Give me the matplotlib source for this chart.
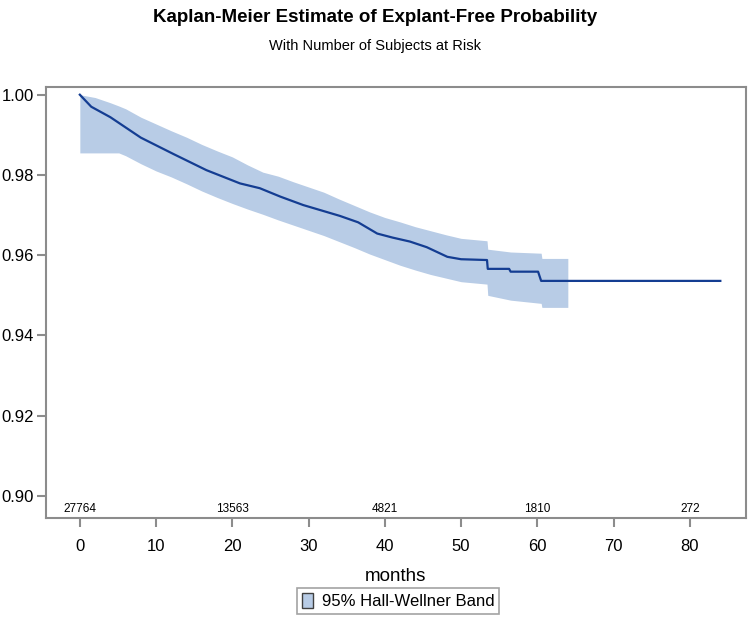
import matplotlib
matplotlib.use("Agg")
import matplotlib.pyplot as plt
from matplotlib.patches import Patch

plt.rcParams['font.family'] = ['Liberation Sans', 'DejaVu Sans']

# Kaplan-Meier curve (months, explant-free probability)
km_months = [0, 1.5, 4.0, 8, 12.3, 16.6, 21, 23.6, 26.3, 29.3, 34.1, 36.5, 39, 41, 43.3,
             45.5, 48.2, 50, 53.4, 53.5, 56.3, 56.5, 60.1, 60.5, 84]
km_surv = [1.000, 0.997, 0.9944, 0.9893, 0.9852, 0.9812, 0.9779, 0.9767, 0.9746, 0.9725,
           0.9698, 0.9682, 0.9654, 0.9644, 0.9634, 0.962, 0.9596, 0.9590, 0.9588, 0.9566,
           0.9566, 0.9559, 0.9559, 0.9536, 0.9536]

# 95% Hall-Wellner band
band_months = [0, 2, 4, 5.1, 6, 8, 10, 12, 14, 16, 18, 20, 22, 24, 26, 28, 30, 32, 34, 36,
               38, 40, 42, 44, 46, 48, 50, 53.4, 53.5, 56.5, 60.5, 60.6, 64]
band_upper = [1.000, 0.9993, 0.9980, 0.9972, 0.9965, 0.9944, 0.9927, 0.9910, 0.9894, 0.9876,
              0.9860, 0.9845, 0.9825, 0.9807, 0.9797, 0.9783, 0.9770, 0.9757, 0.9740, 0.9724,
              0.9708, 0.9694, 0.9683, 0.9671, 0.9661, 0.9651, 0.9642, 0.9636, 0.9615, 0.9608,
              0.9605, 0.9592, 0.9592]
band_lower = [0.9855, 0.9855, 0.9855, 0.9855, 0.9848, 0.9828, 0.9810, 0.9795, 0.9778, 0.9760,
              0.9744, 0.9729, 0.9715, 0.9702, 0.9688, 0.9675, 0.9662, 0.9649, 0.9634, 0.9619,
              0.9603, 0.9589, 0.9575, 0.9563, 0.9552, 0.9543, 0.9534, 0.9528, 0.9500, 0.9488,
              0.9480, 0.9470, 0.9470]

# subjects at risk
risk_months = [0, 20, 40, 60, 80]
risk_counts = [27764, 13563, 4821, 1810, 272]

band_color = '#b8cce6'
line_color = '#143d92'
frame_color = '#8c8c8c'

fig = plt.figure(figsize=(7.5, 6.22), dpi=100)
ax = fig.add_axes([0.0607, 0.1677, 0.9343, 0.6919])

ax.fill_between(band_months, band_lower, band_upper, color=band_color, linewidth=0)
ax.plot(km_months, km_surv, color=line_color, linewidth=1.6)

ax.set_xlim(-4.5, 87.4)
ax.set_ylim(0.89459, 1.00184)
ax.set_xticks(range(0, 81, 10))
ax.set_yticks([0.90, 0.92, 0.94, 0.96, 0.98, 1.00])
ax.set_yticklabels(['0.90', '0.92', '0.94', '0.96', '0.98', '1.00'])

for s in ax.spines.values():
    s.set_color(frame_color)
    s.set_linewidth(1.5)
ax.tick_params(colors=frame_color, labelcolor='black', length=6.5, width=1.5,
               labelsize=12)
ax.tick_params(axis='y', pad=2)
ax.tick_params(axis='x', pad=9)

for m, n in zip(risk_months, risk_counts):
    ax.text(m, 0.89459 + 2.5 / 4013, str(n), ha='center', va='bottom', fontsize=8.5)

ax.set_xlabel('months', fontsize=13.5, labelpad=10)

fig.text(0.5, 1 - 17 / 622, 'Kaplan-Meier Estimate of Explant-Free Probability',
         ha='center', va='center', fontsize=13.5, fontweight='bold')
fig.text(0.5, 1 - 46 / 622, 'With Number of Subjects at Risk',
         ha='center', va='center', fontsize=10.5)

handle = Patch(facecolor=band_color, edgecolor='#404040', linewidth=1)
leg = fig.legend([handle], ['95% Hall-Wellner Band'], loc='center',
                 bbox_to_anchor=(398 / 750, 1 - 601 / 622), fontsize=12,
                 frameon=True, fancybox=False, handlelength=0.7, handleheight=1.0,
                 handletextpad=0.5, borderpad=0.3)
leg.get_frame().set_edgecolor(frame_color)
leg.get_frame().set_linewidth(1.2)

fig.savefig('out.png', dpi=100)
